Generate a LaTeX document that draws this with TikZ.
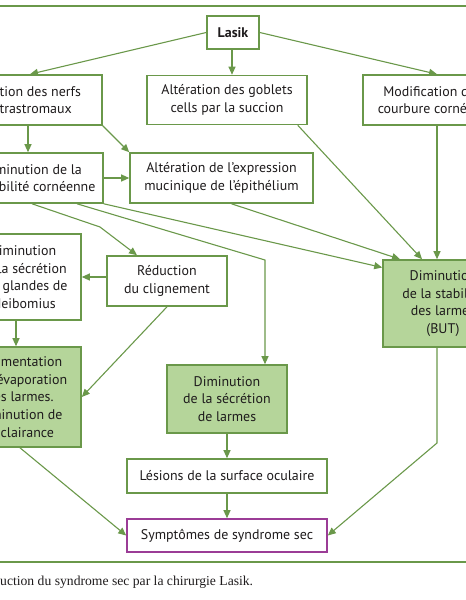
\documentclass[tikz,border=0pt]{standalone}
\usepackage{fontspec}
\setmainfont{PT Sans}
\newfontfamily\captionserif{Liberation Serif}
\usepackage{tikz}
\usetikzlibrary{calc,arrows.meta,positioning}
\definecolor{lasikGreen}{RGB}{106,152,74}
\definecolor{lasikFill}{RGB}{181,213,154}
\definecolor{lasikPurple}{RGB}{155,60,150}
\definecolor{lasikText}{RGB}{30,27,28}

\begin{document}
\begin{tikzpicture}[x=1bp,y=-1bp,
    box/.style={draw=lasikGreen, line width=1.6bp, fill=white, text=lasikText,
        align=center, inner sep=0pt, font=\fontsize{14}{17.7}\selectfont},
    greenbox/.style={box, fill=lasikFill},
    purplebox/.style={box, draw=lasikPurple},
    link/.style={lasikGreen, line width=1.1bp, -{Triangle[length=8bp,width=7bp]}}]

    % frame of the page
    \useasboundingbox (0,0) rectangle (466,600);
    \clip (0,0) rectangle (466,600);
    \draw[lasikGreen, line width=1.2bp] (0,6) -- (466,6);
    \draw[lasikGreen, line width=1.2bp] (0,562) -- (466,562);

    % boxes
    \node[box, minimum width=52bp, minimum height=33bp,
        font=\fontsize{14}{17.7}\selectfont\bfseries] (lasik) at (233,32.5) {Lasik};
    \node[box, minimum width=144bp, minimum height=50bp] (nerfs) at (30,100)
        {Section des nerfs\\intrastromaux};
    \node[box, minimum width=160bp, minimum height=49bp] (goblets) at (227,100)
        {Altération des goblets\\cells par la succion};
    \node[box, minimum width=148bp, minimum height=50bp] (courbure) at (437,100)
        {Modification de la\\courbure cornéenne};
    \node[box, minimum width=142bp, minimum height=50bp] (sensib) at (32,178)
        {Diminution de la\\sensibilité cornéenne};
    \node[box, minimum width=183bp, minimum height=50bp] (mucine) at (221.5,178)
        {Altération de l’expression\\mucinique de l’épithélium};
    \node[box, minimum width=116bp, minimum height=86bp] (meibo) at (23,277)
        {Diminution\\de la sécrétion\\des glandes de\\Meibomius};
    \node[box, minimum width=120bp, minimum height=50bp] (clign) at (167,281)
        {Réduction\\du clignement};
    \node[greenbox, minimum width=120bp, minimum height=87bp] (stabil) at (443,303.5)
        {Diminution\\de la stabilité\\des larmes\\(BUT)};
    \node[greenbox, minimum width=122bp, minimum height=100bp] (evap) at (20,397)
        {Augmentation\\de l’évaporation\\des larmes.\\Diminution de\\la clairance};
    \node[greenbox, minimum width=120bp, minimum height=68bp] (secretion) at (227,399)
        {Diminution\\de la sécrétion\\de larmes};
    \node[box, minimum width=200bp, minimum height=34bp] (lesions) at (227,476)
        {Lésions de la surface oculaire};
    \node[purplebox, minimum width=200bp, minimum height=33bp] (sympt) at (227,535.5)
        {Symptômes de syndrome sec};

    % bends
    \coordinate (kinkA) at (100,227);
    \coordinate (kinkB) at (265,260);
    \coordinate (kinkC) at (437,443);

    % arrows
    \draw[link] (lasik.west) -- (nerfs.north);
    \draw[link] ([xshift=-1bp]lasik.south) -- ([xshift=-1bp]lasik.south |- goblets.north);
    \draw[link] (lasik.east) -- (courbure.north);
    \draw[link] ([xshift=-2bp]nerfs.south) -- ([xshift=-2bp]nerfs.south |- sensib.north);
    \draw[link] (nerfs.south east) -- (mucine.north west);
    \draw[link] (sensib.east) -- (mucine.west);
    \draw[link] ([xshift=-10bp]goblets.south east) -- ([xshift=-21bp]stabil.north);
    \draw[link] (courbure.south) -- (courbure.south |- stabil.north);
    \draw[link] ([xshift=10bp]mucine.south) -- ([xshift=-43bp]stabil.north);
    \draw[link] (sensib.south) -- (kinkA) -- ([xshift=-30bp]clign.north);
    \draw[link] ([xshift=45bp]sensib.south) -- (kinkB) -- (kinkB |- secretion.north);
    \draw[link] (sensib.south east) -- ([yshift=36bp]stabil.west);
    \draw[link] (clign.west |- meibo.east) -- (meibo.east);
    \draw[link] ([xshift=-7bp]meibo.south) -- ([xshift=-7bp]meibo.south |- evap.north);
    \draw[link] (clign.south) -- (evap.east);
    \draw[link] (evap.south) -- (sympt.west);
    \draw[link] (secretion.south) -- (lesions.north);
    \draw[link] (lesions.south) -- (sympt.north);
    \draw[link] ([xshift=-6bp]stabil.south) -- (kinkC) -- (sympt.east);

    % caption
    \node[anchor=west, inner sep=0pt, text=lasikText,
        font=\captionserif\fontsize{13.7}{16}\selectfont] (caption) at (0,582)
        {uction du syndrome sec par la chirurgie Lasik.};

\end{tikzpicture}
\end{document}
